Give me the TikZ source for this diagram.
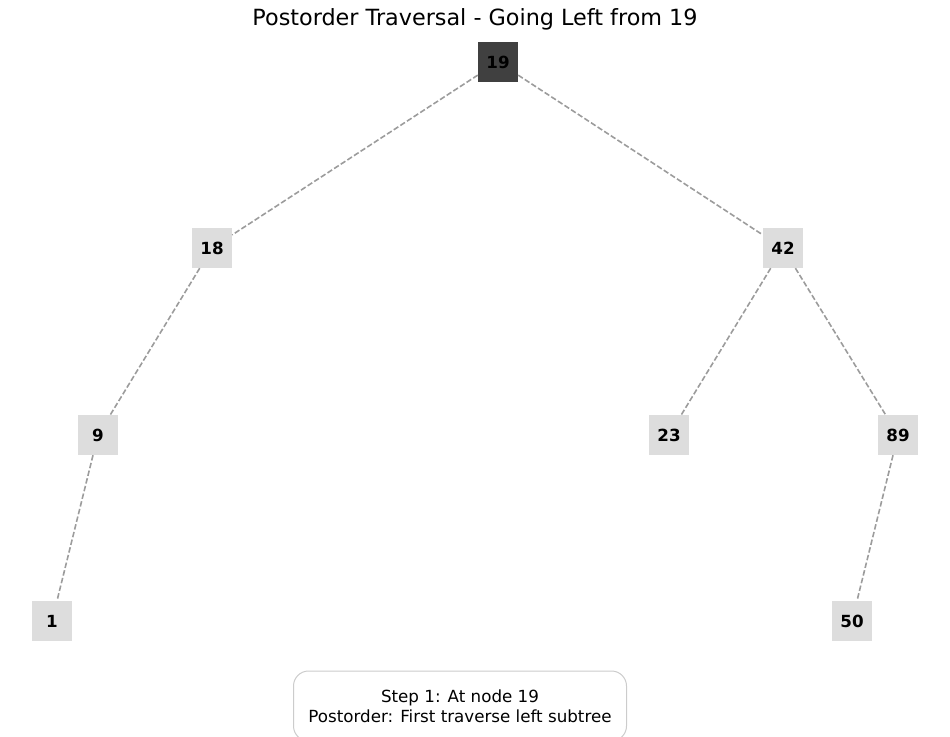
\documentclass[tikz,border=0pt]{standalone}
\usepackage{fontspec}
\setmainfont{DejaVu Sans}
\usetikzlibrary{positioning}

\definecolor{rootfill}{HTML}{404040}
\definecolor{keyfill}{HTML}{DDDDDD}
\definecolor{linkgray}{HTML}{9C9C9C}
\definecolor{framegray}{HTML}{CCCCCC}

\tikzset{
  key/.style={fill=keyfill, minimum size=40pt, inner sep=0pt,
    font=\fontsize{16.7}{20}\selectfont\bfseries},
  current/.style={key, fill=rootfill},
  link/.style={draw=linkgray, line width=1.6pt, dash pattern=on 5.5pt off 2.4pt}
}

\begin{document}
\begin{tikzpicture}[x=1pt,y=-1pt]
  \useasboundingbox (0,0) rectangle (950,736);
  \clip (0,0) rectangle (950,736);

  \node[font=\fontsize{22.3}{26}\selectfont] (title) at (475,19) {Postorder Traversal - Going Left from 19};

  \node[current] (n19) at (498,62) {19};
  \node[key] (n18) at (212,248) {18};
  \node[key] (n42) at (783,248) {42};
  \node[key] (n9) at (98,435) {9};
  \node[key] (n23) at (669,435) {23};
  \node[key] (n89) at (898,435) {89};
  \node[key] (n1) at (52,621) {1};
  \node[key] (n50) at (852,621) {50};

  \path[link] (n19) edge (n18)
                    edge (n42);
  \path[link] (n18) edge (n9);
  \path[link] (n9) edge (n1);
  \path[link] (n42) edge (n23)
                    edge (n89);
  \path[link] (n89) edge (n50);

  \node[draw=framegray, line width=1pt, rounded corners=15pt, fill=white,
    minimum width=333pt, minimum height=70pt, align=center,
    font=\fontsize{16.7}{20}\selectfont] (step) at (460,706)
    {Step 1: At node 19\\Postorder: First traverse left subtree};
\end{tikzpicture}
\end{document}
